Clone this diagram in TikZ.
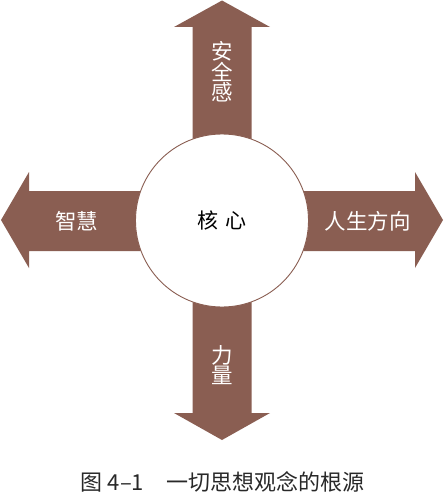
\documentclass[tikz,border=0pt]{standalone}
\usepackage{fontspec}
\newfontfamily\cjk{Noto Sans CJK SC}
\definecolor{arrowbrown}{RGB}{138,94,82}
\definecolor{captiongray}{RGB}{40,40,40}
\begin{document}
\begin{tikzpicture}[x=1pt,y=-1pt,
  arrowfill/.style={fill=arrowbrown},
  armlabel/.style={text=white,font=\cjk\fontsize{21.5}{19}\selectfont,inner sep=0pt,align=center},
  corecircle/.style={circle,draw=arrowbrown,line width=0.9pt,fill=white,minimum size=173pt,inner sep=0pt,font=\cjk\fontsize{21}{24}\selectfont}
]
\useasboundingbox (0,0) rectangle (444,492);
% arrows
\fill[arrowfill] (192.5,222) -- (192.5,27) -- (174,27) -- (222,0.5) -- (270,27) -- (251.5,27) -- (251.5,222) -- cycle;
\fill[arrowfill] (192.5,220) -- (192.5,413) -- (174,413) -- (222,440) -- (270,413) -- (251.5,413) -- (251.5,220) -- cycle;
\fill[arrowfill] (222,191) -- (29,191) -- (29,172) -- (1,220) -- (29,268) -- (29,251) -- (222,251) -- cycle;
\fill[arrowfill] (222,191) -- (415,191) -- (415,172) -- (443,220) -- (415,268) -- (415,251) -- (222,251) -- cycle;
% core
\node[corecircle] (core) at (222,220.5) {核\hspace{0.35em}心};
% labels
\node[armlabel] (top) at (222,72) {安\\全\\感};
\node[armlabel] (bottom) at (222,365) {力\\量};
\node[armlabel] (left) at (76.5,221) {智慧};
\node[armlabel] (right) at (367.5,221) {人生方向};
% caption
\node[text=captiongray,font=\cjk\fontsize{22}{24}\selectfont,inner sep=0pt] (caption) at (222.5,482) {图 4–1\hspace{1em}一切思想观念的根源};
\end{tikzpicture}
\end{document}
